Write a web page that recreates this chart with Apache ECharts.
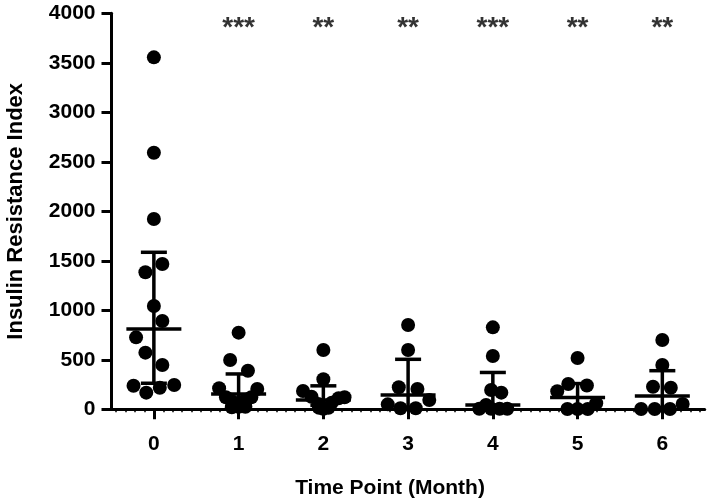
<!DOCTYPE html>
<html>
<head>
<meta charset="utf-8">
<script src="https://cdn.jsdelivr.net/npm/echarts@6/dist/echarts.min.js"></script>
<style>
  html, body { margin: 0; padding: 0; background: #fff; }
  #chart { width: 709px; height: 503px; }
</style>
</head>
<body>
<div id="chart"></div>
<script>
// time points (month)
const months = [0, 1, 2, 3, 4, 5, 6];

// individual values per time point
const month0 = [3555, 2592, 1922, 1468, 1384, 1043, 892, 727, 572, 447, 238, 168, 218, 245];
const month1 = [774, 498, 390, 212, 205, 121, 121, 77, 87, 26, 20, 26];
const month2 = [599, 303, 185, 121, 127, 54, 67, 5, 111, 15, 15];
const month3 = [851, 599, 222, 205, 50, 10, 10, 94];
const month4 = [828, 538, 195, 168, 43, 5, 5, 5, 5];
const month5 = [518, 256, 240, 182, 61, 3, 3, 3];
const month6 = [700, 447, 228, 218, 54, 3, 3, 3];

// horizontal spread of the dots (fraction of one time point)
const month0Dx = [0, 0, 0, 0.10, -0.10, 0, 0.10, -0.21, -0.10, 0.10, -0.24, -0.09, 0.07, 0.24];
const month1Dx = [0, -0.10, 0.11, -0.23, 0.22, -0.15, 0.15, -0.07, 0.07, 0, -0.08, 0.08];
const month2Dx = [0, 0, -0.24, 0.25, -0.14, -0.06, 0.10, 0, 0.18, -0.05, 0.06];
const month3Dx = [0, 0, -0.11, 0.11, -0.24, -0.09, 0.09, 0.25];
const month4Dx = [0, 0, -0.02, 0.10, -0.08, -0.16, -0.02, 0.08, 0.17];
const month5Dx = [0, -0.11, 0.11, -0.24, 0.22, -0.12, 0, 0.12];
const month6Dx = [0, 0, -0.11, 0.10, 0.24, -0.25, -0.09, 0.09];

// centre line and error bar ends
const centre = [811, 155, 94, 144, 43, 119, 134];
const barLow = [263, 50, 40, 10, 5, 5, 5];
const barHigh = [1586, 357, 237, 505, 372, 260, 390];

// significance marks
const stars = ['', '***', '**', '**', '***', '**', '**'];
const starY = 3850;

const groups = [month0, month1, month2, month3, month4, month5, month6];
const offsets = [month0Dx, month1Dx, month2Dx, month3Dx, month4Dx, month5Dx, month6Dx];

const dots = [];
groups.forEach(function (vals, g) {
  vals.forEach(function (v, i) {
    dots.push([months[g] + offsets[g][i], v]);
  });
});

const bars = months.map(function (m, g) {
  return [m, centre[g], barLow[g], barHigh[g]];
});

const starData = [];
months.forEach(function (m, g) {
  if (stars[g]) starData.push({ value: [m, starY], label: { formatter: stars[g] } });
});

// minor ticks along the time axis
const minorTicks = [];
for (let i = -1; i <= 6; i++) {
  for (let j = 1; j < 9; j++) {
    const t = i + j / 9;
    if (t > -0.5 && t < 6.5) minorTicks.push(t);
  }
}

const font = "'Liberation Sans', Arial, sans-serif";

const chart = echarts.init(document.getElementById('chart'));

function renderBar(params, api) {
  const x = api.value(0);
  const c = api.coord([x, api.value(1)]);
  const lo = api.coord([x, api.value(2)]);
  const hi = api.coord([x, api.value(3)]);
  const style = { stroke: '#000', lineWidth: 3.5 };
  const capW = 13;
  const meanW = 27.5;
  return {
    type: 'group',
    children: [
      { type: 'line', shape: { x1: lo[0], y1: lo[1], x2: hi[0], y2: hi[1] }, style: style },
      { type: 'line', shape: { x1: hi[0] - capW, y1: hi[1], x2: hi[0] + capW, y2: hi[1] }, style: style },
      { type: 'line', shape: { x1: lo[0] - capW, y1: lo[1], x2: lo[0] + capW, y2: lo[1] }, style: style },
      { type: 'line', shape: { x1: c[0] - meanW, y1: c[1], x2: c[0] + meanW, y2: c[1] }, style: style }
    ]
  };
}

const option = {
  animation: false,
  backgroundColor: '#fff',
  grid: { left: 111.5, right: 4.3, top: 13.3, bottom: 93.7, outerBoundsMode: 'none', containLabel: false },
  xAxis: [
    {
      type: 'value',
      min: -0.5,
      max: 6.5,
      position: 'bottom',
      splitLine: { show: false },
      axisLine: { show: true, onZero: false, lineStyle: { color: '#000', width: 3 } },
      axisTick: { show: true, customValues: months, length: 10, lineStyle: { color: '#000', width: 3 } },
      axisLabel: {
        customValues: months,
        color: '#000',
        fontFamily: font,
        fontWeight: 'bold',
        fontSize: 21,
        margin: 24
      }
    },
    {
      type: 'value',
      min: -0.5,
      max: 6.5,
      position: 'bottom',
      splitLine: { show: false },
      axisLine: { show: false, onZero: false },
      axisTick: { show: true, customValues: minorTicks, length: 3, lineStyle: { color: '#000', width: 1.5 } },
      axisLabel: { show: false }
    }
  ],
  yAxis: {
    type: 'value',
    min: 0,
    max: 4000,
    interval: 500,
    name: 'Insulin Resistance Index',
    nameLocation: 'middle',
    nameGap: 85,
    nameTextStyle: { color: '#000', fontFamily: font, fontWeight: 'bold', fontSize: 22 },
    splitLine: { show: false },
    axisLine: { show: true, onZero: false, lineStyle: { color: '#000', width: 3 } },
    axisTick: { show: true, length: 10, lineStyle: { color: '#000', width: 3 } },
    axisLabel: {
      color: '#000',
      fontFamily: font,
      fontWeight: 'bold',
      fontSize: 21,
      margin: 16,
      formatter: function (v) { return String(v); }
    }
  },
  graphic: [
    {
      type: 'text',
      x: 390,
      y: 488,
      style: {
        text: 'Time Point (Month)',
        textAlign: 'center',
        textVerticalAlign: 'middle',
        fill: '#000',
        font: 'bold 21px ' + font
      }
    }
  ],
  series: [
    {
      type: 'scatter',
      data: dots,
      symbol: 'circle',
      symbolSize: 14,
      itemStyle: { color: '#000', opacity: 1 },
      z: 3
    },
    {
      type: 'custom',
      data: bars,
      renderItem: renderBar,
      z: 4
    },
    {
      type: 'scatter',
      data: starData,
      symbolSize: 1,
      itemStyle: { color: 'rgba(0,0,0,0)' },
      label: {
        show: true,
        position: 'inside',
        color: '#000',
        fontFamily: font,
        fontWeight: 'bold',
        fontSize: 28
      },
      z: 5
    }
  ]
};

chart.setOption(option);
</script>
</body>
</html>
